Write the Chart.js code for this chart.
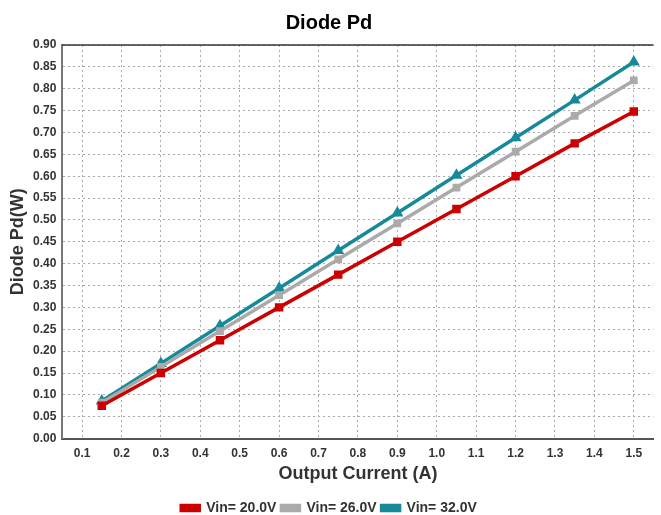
<!DOCTYPE html>
<html>
<head>
<meta charset="utf-8">
<script src="https://cdn.jsdelivr.net/npm/chart.js@4/dist/chart.umd.min.js"></script>
<style>
  body { margin: 0; background: #fff; }
  #wrap { width: 661px; height: 515px; }
</style>
</head>
<body>
<div id="wrap"><canvas id="pdChart" width="661" height="515"></canvas></div>
<script>
// data
const current = [0.15, 0.3, 0.45, 0.6, 0.75, 0.9, 1.05, 1.2, 1.35, 1.5];
const pd20 = [0.075, 0.150, 0.225, 0.300, 0.375, 0.450, 0.525, 0.600, 0.675, 0.748];
const pd26 = [0.082, 0.164, 0.246, 0.328, 0.410, 0.492, 0.574, 0.656, 0.738, 0.819];
const pd32 = [0.086, 0.172, 0.258, 0.344, 0.430, 0.516, 0.602, 0.688, 0.774, 0.861];
const xTicks = [0.1, 0.2, 0.3, 0.4, 0.5, 0.6, 0.7, 0.8, 0.9, 1.0, 1.1, 1.2, 1.3, 1.4, 1.5];
const seriesNames = ["Vin= 20.0V", "Vin= 26.0V", "Vin= 32.0V"];

const pts = (ys) => current.map((x, i) => ({ x: x, y: ys[i] }));
const font = "'Liberation Sans', Arial, sans-serif";

// top border line
const topLine = {
  id: "topLine",
  afterDraw(chart) {
    const { ctx, chartArea } = chart;
    ctx.save();
    ctx.strokeStyle = "#333";
    ctx.lineWidth = 1.5;
    ctx.setLineDash([]);
    ctx.beginPath();
    ctx.moveTo(chartArea.left, chartArea.top);
    ctx.lineTo(chartArea.right, chartArea.top);
    ctx.stroke();
    ctx.restore();
  }
};

const ctx = document.getElementById("pdChart").getContext("2d");
new Chart(ctx, {
  type: "scatter",
  data: {
    datasets: [
      {
        label: seriesNames[0],
        data: pts(pd20),
        borderColor: "#cc0000",
        backgroundColor: "#cc0000",
        pointStyle: "rect",
        pointRadius: 3.5,
        borderWidth: 3.5,
        showLine: true
      },
      {
        label: seriesNames[1],
        data: pts(pd26),
        borderColor: "#aaaaaa",
        backgroundColor: "#aaaaaa",
        pointStyle: "rect",
        pointRadius: 3,
        borderWidth: 3.5,
        showLine: true
      },
      {
        label: seriesNames[2],
        data: pts(pd32),
        borderColor: "#178a9a",
        backgroundColor: "#178a9a",
        pointStyle: "triangle",
        pointRadius: 3.5,
        borderWidth: 3.5,
        showLine: true
      }
    ]
  },
  options: {
    responsive: false,
    animation: false,
    layout: { padding: { right: 3, top: 0, bottom: -10 } },
    plugins: {
      title: {
        display: true,
        text: "Diode Pd",
        color: "#000",
        font: { family: font, size: 20, weight: "bold" },
        padding: { top: 11, bottom: 10 }
      },
      legend: {
        position: "bottom",
        labels: {
          color: "#333",
          font: { family: font, size: 14, weight: "bold" },
          boxWidth: 18,
          boxHeight: 5,
          padding: 5
        }
      },
      tooltip: { enabled: false }
    },
    scales: {
      x: {
        type: "linear",
        min: 0.05,
        max: 1.55,
        afterBuildTicks: (axis) => { axis.ticks = xTicks.map(v => ({ value: v })); },
        ticks: {
          color: "#333",
          font: { family: font, size: 12, weight: "bold" },
          callback: (v) => v.toFixed(1),
          maxRotation: 0,
          padding: 8
        },
        grid: {
          color: "#aaa",
          drawTicks: false
        },
        border: { display: true, color: "#555", width: 2, dash: [2, 3] },
        title: {
          display: true,
          text: "Output Current (A)",
          color: "#333",
          font: { family: font, size: 18, weight: "bold", lineHeight: 1 },
          padding: { top: -4, bottom: 13 }
        }
      },
      y: {
        min: 0,
        max: 0.9,
        ticks: {
          stepSize: 0.05,
          color: "#333",
          font: { family: font, size: 12, weight: "bold" },
          callback: (v) => v.toFixed(2),
          padding: 6
        },
        grid: {
          color: "#aaa",
          drawTicks: false
        },
        border: { display: true, color: "#777", width: 2, dash: [2, 3] },
        title: {
          display: true,
          text: "Diode Pd(W)",
          color: "#333",
          font: { family: font, size: 18, weight: "bold", lineHeight: 1 },
          padding: { top: 9, bottom: 0 }
        }
      }
    }
  },
  plugins: [topLine]
});
</script>
</body>
</html>
